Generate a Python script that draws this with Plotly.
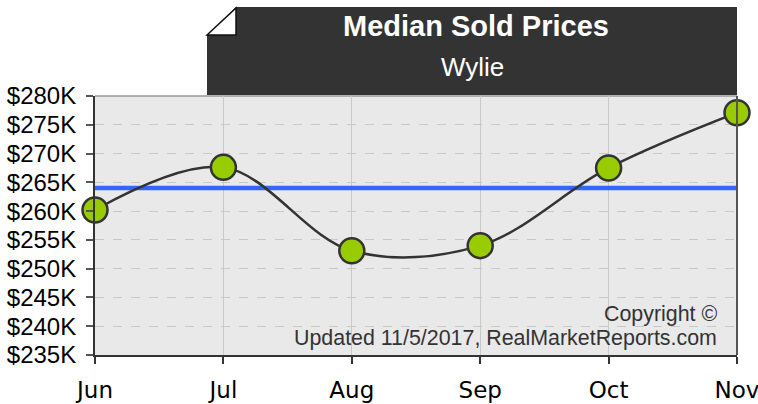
import plotly.graph_objects as go

months = ["Jun", "Jul", "Aug", "Sep", "Oct", "Nov"]
median_prices = [260200, 267600, 253100, 254000, 267500, 277100]
average_price = 264000
y_tickvals = [235000, 240000, 245000, 250000, 255000, 260000, 265000, 270000, 275000, 280000]
y_ticktext = ["$235K", "$240K", "$245K", "$250K", "$255K", "$260K", "$265K", "$270K", "$275K", "$280K"]
title_text = "Median Sold Prices"
subtitle_text = "Wylie"
footer_lines = ["Copyright ©", "Updated 11/5/2017, RealMarketReports.com"]

W, H = 758, 404
L, T = 95, 96
R, B = 758 - 737, 404 - 355
pw, ph = W - L - R, H - T - B


def px(x):
    return (x - L) / pw


def py(y):
    return (H - B - y) / ph


fig = go.Figure()
fig.add_trace(go.Scatter(
    x=months, y=[average_price] * len(months), mode="lines",
    line=dict(color="#3366ff", width=4.5), hoverinfo="skip", showlegend=False,
))
fig.add_trace(go.Scatter(
    x=months, y=median_prices, mode="lines+markers",
    line=dict(color="#333333", width=2.5, shape="spline", smoothing=1),
    marker=dict(size=25, color="#99cc00", line=dict(color="#333333", width=2.5)),
    cliponaxis=False, showlegend=False,
))

# title box with folded corner
box_path = (f"M {px(207)},{py(35)} L {px(236)},{py(7)} L {px(737)},{py(7)} "
            f"L {px(737)},{py(95)} L {px(207)},{py(95)} Z")
fig.add_shape(type="path", xref="paper", yref="paper", path=box_path,
              fillcolor="#333333", line=dict(width=0), layer="above")
fold_path = f"M {px(207)},{py(35)} L {px(236)},{py(8)} L {px(236)},{py(35)} Z"
fig.add_shape(type="path", xref="paper", yref="paper", path=fold_path,
              fillcolor="#ffffff", line=dict(color="#111111", width=1.5), layer="above")

fig.add_annotation(xref="paper", yref="paper", x=px(476), y=py(26), text=f"<b>{title_text}</b>",
                   showarrow=False, xanchor="center", yanchor="middle",
                   font=dict(family="Liberation Sans, Arial", size=29, color="#ffffff"))
fig.add_annotation(xref="paper", yref="paper", x=px(472), y=py(67), text=subtitle_text,
                   showarrow=False, xanchor="center", yanchor="middle",
                   font=dict(family="Liberation Sans, Arial", size=26, color="#ffffff"))
fig.add_annotation(xref="paper", yref="paper", x=px(719), y=py(314), text=footer_lines[0],
                   showarrow=False, xanchor="right", yanchor="middle",
                   font=dict(family="Liberation Sans, Arial", size=21.4, color="#333333"))
fig.add_annotation(xref="paper", yref="paper", x=px(719), y=py(338), text=footer_lines[1],
                   showarrow=False, xanchor="right", yanchor="middle",
                   font=dict(family="Liberation Sans, Arial", size=21.4, color="#333333"))

fig.update_layout(
    width=W, height=H, margin=dict(l=L, r=R, t=T, b=B, autoexpand=False),
    paper_bgcolor="#ffffff", plot_bgcolor="#e9e9e9",
    xaxis=dict(type="category", range=[0, 5], showgrid=True, gridcolor="#c8c8c8", gridwidth=1,
               showline=True, linecolor="#333333", linewidth=2, mirror=False,
               ticks="outside", ticklen=7, tickcolor="#333333", tickwidth=1.5,
               tickfont=dict(family="DejaVu Sans", size=23, color="#000000"),
               ticklabelstandoff=6, zeroline=False, automargin=False),
    yaxis=dict(range=[235000, 280000], tickvals=y_tickvals, ticktext=y_ticktext,
               showgrid=True, gridcolor="#c8c8c8", gridwidth=1, griddash="dash",
               showline=True, linecolor="#333333", linewidth=2, mirror=False,
               ticks="outside", ticklen=7, tickcolor="#555555", tickwidth=1.5,
               tickfont=dict(family="Liberation Sans, Arial", size=24, color="#000000"),
               ticklabelstandoff=5, zeroline=False, automargin=False),
)
# right and top borders
fig.add_shape(type="line", xref="paper", yref="paper", x0=1, x1=1, y0=0, y1=1,
              line=dict(color="#555555", width=2), layer="above")
fig.add_shape(type="line", xref="paper", yref="paper", x0=0, x1=1, y0=1, y1=1,
              line=dict(color="#999999", width=1.5), layer="below")

fig.write_html("out.html", config={"displayModeBar": False},
               post_script="document.body.style.margin='0';")
